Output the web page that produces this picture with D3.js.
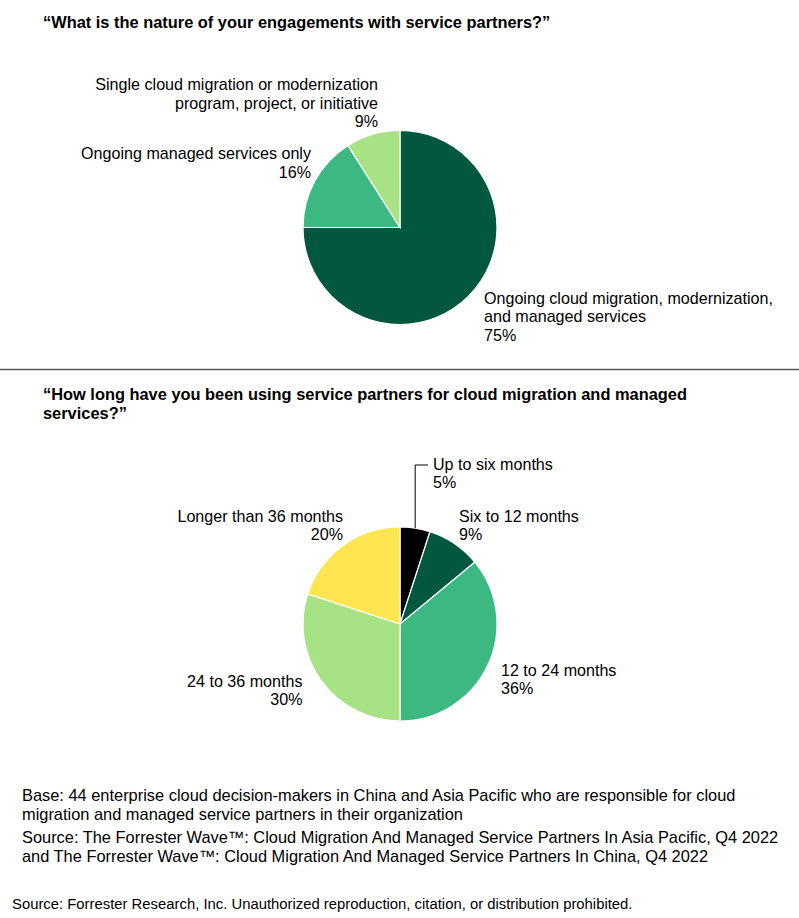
<!DOCTYPE html>
<html><head><meta charset="utf-8">
<script src="https://cdn.jsdelivr.net/npm/d3@7/dist/d3.min.js"></script>
<style>
html,body{margin:0;padding:0;background:#fff;}
text{font-family:"Liberation Sans",Arial,sans-serif;fill:#000;}
</style></head>
<body>
<svg id="chart" width="799" height="918"></svg>
<script>
// ---- Data ----
const title1 = "\u201CWhat is the nature of your engagements with service partners?\u201D";
const engagementCategories = [
  ["Ongoing cloud migration, modernization,", "and managed services"],
  ["Ongoing managed services only"],
  ["Single cloud migration or modernization", "program, project, or initiative"]
];
const engagementValues = [75, 16, 9];

const title2 = ["\u201CHow long have you been using service partners for cloud migration and managed", "services?\u201D"];
const durationCategories = [
  ["Up to six months"],
  ["Six to 12 months"],
  ["12 to 24 months"],
  ["24 to 36 months"],
  ["Longer than 36 months"]
];
const durationValues = [5, 9, 36, 30, 20];

const footnotes = [
  "Base: 44 enterprise cloud decision-makers in China and Asia Pacific who are responsible for cloud",
  "migration and managed service partners in their organization",
  "Source: The Forrester Wave\u2122: Cloud Migration And Managed Service Partners In Asia Pacific, Q4 2022",
  "and The Forrester Wave\u2122: Cloud Migration And Managed Service Partners In China, Q4 2022"
];
const credit = "Source: Forrester Research, Inc. Unauthorized reproduction, citation, or distribution prohibited.";

// ---- Styles / layout ----
const engagementColors = ["#02583f", "#3cb982", "#a7e285"];
const durationColors = ["#000000", "#02583f", "#3cb982", "#a7e285", "#ffe54f"];
const R = 97;
const lineH = 18.5;

const svg = d3.select("#chart");

// titles
svg.append("text").attr("x", 43).attr("y", 28).attr("font-size", 16.4).attr("font-weight", "bold").text(title1);
title2.forEach((t, i) => svg.append("text").attr("x", 43).attr("y", 400 + i * 19)
  .attr("font-size", 16.4).attr("font-weight", "bold").text(t));

// divider
svg.append("line").attr("x1", 0).attr("x2", 799).attr("y1", 369.5).attr("y2", 369.5)
  .attr("stroke", "#595959").attr("stroke-width", 1.5);

const pie = d3.pie().sort(null).value(d => d);
const arc = d3.arc().innerRadius(0).outerRadius(R);
const fmt = v => d3.format(".0f")(v) + "%";

function drawPie(cx, cy, values, colors, cats, labelLayout) {
  const g = svg.append("g").attr("transform", `translate(${cx},${cy})`);
  const arcs = pie(values);
  g.selectAll("path").data(arcs).join("path")
    .attr("d", arc).attr("fill", (d, i) => colors[i])
    .attr("stroke", "#fff").attr("stroke-width", 1.2);
  arcs.forEach((a, i) => {
    const L = labelLayout[i];
    const lines = cats[i].concat([fmt(a.value)]);
    const t = g.append("text").attr("font-size", 16.1).attr("text-anchor", L.anchor);
    lines.forEach((ln, j) => t.append("tspan").attr("x", L.x).attr("y", L.y + j * lineH).text(ln));
    if (L.leader) {
      const mid = (a.startAngle + a.endAngle) / 2;
      const px = Math.sin(mid) * R, py = -Math.cos(mid) * R;
      g.append("polyline")
        .attr("points", `${px},${py} ${px},${L.leader.y} ${L.leader.x},${L.leader.y}`)
        .attr("fill", "none").attr("stroke", "#000").attr("stroke-width", 1);
    }
  });
}

// label positions relative to pie centre (layout only)
drawPie(400, 227.5, engagementValues, engagementColors, engagementCategories, [
  {x: 84, y: 76, anchor: "start"},
  {x: -89, y: -68.5, anchor: "end"},
  {x: -22, y: -137.5, anchor: "end"}
]);
drawPie(400, 624, durationValues, durationColors, durationCategories, [
  {x: 33, y: -154.5, anchor: "start", leader: {x: 28, y: -159}},
  {x: 59, y: -102.5, anchor: "start"},
  {x: 101, y: 51.5, anchor: "start"},
  {x: -97.5, y: 62.5, anchor: "end"},
  {x: -57, y: -102.5, anchor: "end"}
]);

// footnotes
const footY = [800.5, 819.5, 842.5, 862];
footnotes.forEach((t, i) => svg.append("text").attr("x", 22).attr("y", footY[i])
  .attr("font-size", 16.4).text(t));
svg.append("text").attr("x", 12).attr("y", 909).attr("font-size", 14.85).text(credit);
</script>
</body></html>
